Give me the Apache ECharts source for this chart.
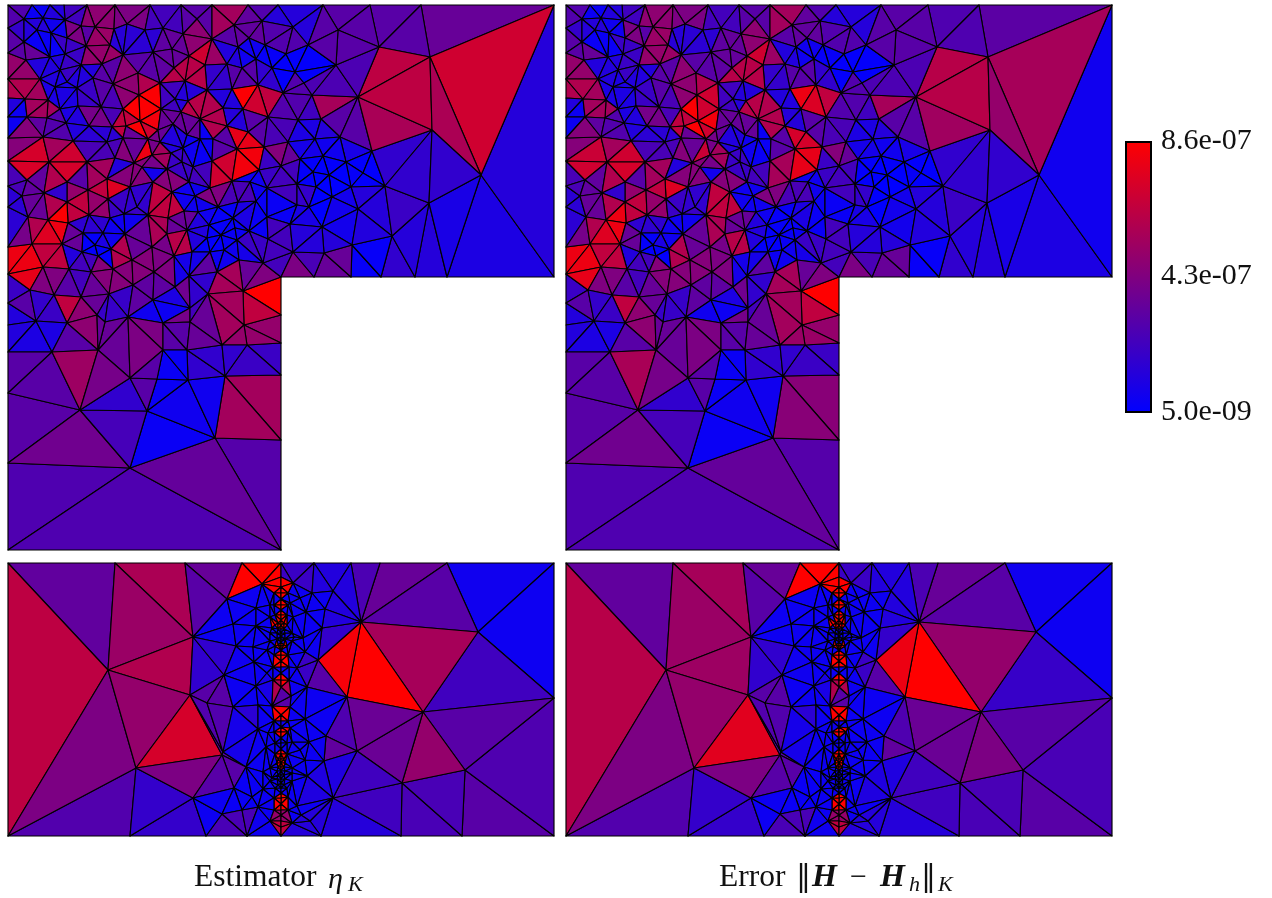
<!DOCTYPE html>
<html><head><meta charset="utf-8">
<script src="https://cdn.jsdelivr.net/npm/echarts@6/dist/echarts.min.js"></script>
<style>html,body{margin:0;background:#fff}#c{width:1272px;height:898px}</style></head>
<body><div id="c"></div>
<script>
// Mesh vertices, in mesh units of the L-shaped domain (0..546)
const topVertices=[[0,0],[24,0],[42,0],[56,0],[79,0],[107,0],[142,0],[173,0],[204,0],[240,0],[270,0],[315,0],[362,0],[413,0],[546,0],
[0,23],[0,48],[0,74],[0,93],[0,112],[0,133],[0,156],[0,181],[0,202],[0,242],[0,269],[0,298],[0,320],[0,347],[0,388],[0,458],[0,545],
[273,545],[273,435],[273,370],[273,338],[273,310],[273,272],[306,272],[343,272],[373,272],[407,272],[439,272],[546,272],
[16,14],[35,13],[57,15],[73,21],[87,22],[106,24],[119,19],[137,25],[16,37],[29,25],[43,28],[59,33],[78,41],[115,50],[145,47],[102,40],
[18,55],[42,52],[57,49],[73,60],[94,59],[130,68],[52,65],[32,74],[47,82],[59,77],[69,83],[85,73],[105,79],[131,90],[40,95],[17,94],[52,104],[70,101],[93,102],[115,104],
[155,23],[175,29],[189,14],[204,34],[226,20],[254,16],[285,22],[164,44],[181,51],[197,60],[219,59],[230,42],[241,33],[257,40],[278,49],[248,54],[234,63],[264,63],[287,67],
[166,63],[152,78],[177,76],[199,85],[224,84],[250,80],[275,88],[167,94],[180,96],[153,104],[215,103],[235,104],
[19,112],[39,113],[58,118],[81,121],[104,122],[118,121],[132,116],[140,134],[35,132],[65,136],[99,137],[115,133],[144,150],[41,157],[79,157],[107,153],[126,158],[19,175],[59,177],[99,174],[122,182],[145,177],[134,162],[80,185],[36,188],[14,191],[59,197],[100,194],[20,212],[81,210],[102,213],[116,209],[129,202],[140,210],
[173,107],[192,114],[219,121],[240,127],[260,112],[290,115],[165,119],[150,125],[179,130],[192,134],[205,134],[152,137],[163,148],[175,143],[204,156],[229,144],[256,142],[280,137],[174,157],[159,164],[185,162],[181,177],[202,183],[224,176],[251,165],[273,161],[164,187],[187,191],[210,202],[248,196],[259,183],[230,197],[289,200],[176,206],[160,213],[190,207],[225,213],[259,212],[242,177],
[40,215],[60,218],[75,228],[95,228],[117,229],[24,239],[54,239],[87,240],[74,247],[90,251],[103,244],[105,264],[124,255],[144,242],[35,262],[61,264],[83,267],[125,280],[22,285],[46,290],[73,292],[101,289],[28,316],[59,318],[89,310],[120,312],[145,295],
[179,225],[159,229],[166,251],[201,220],[199,233],[213,230],[227,223],[241,226],[260,234],[229,235],[216,245],[202,247],[184,247],[231,255],[255,258],[209,267],[181,271],[146,267],[167,282],[200,289],[235,286],[149,295],[182,303],[155,318],[236,320],
[304,90],[350,92],[289,114],[313,114],[332,132],[307,134],[364,146],[315,151],[292,154],[338,157],[355,168],[305,167],[321,170],[343,182],[377,181],[289,179],[308,182],[324,192],[301,202],[350,204],[314,222],[282,219],[384,231],[344,240],[316,248],[285,247],
[371,42],[422,52],[424,125],[473,170],[421,198],[300,40],[330,25],[328,60],[296,78],
[122,463],[207,433],[72,405],[139,406],[180,375],[217,371],[44,347],[90,345],[122,373],[149,374],[155,345],[179,345],[214,340],[239,340],[97,317],[182,317]];
// Mesh vertices of the lower rectangular domain (0..546 by 0..273)
const bottomVertices=[[0,0],[107,0],[177,0],[234,0],[273,0],[306,0],[343,0],[372,0],[439,0],[546,0],[0,273],[122,273],[198,273],[239,273],[273,273],[313,273],[393,273],[454,273],[546,273],[546,135],
[100,107],[185,74],[182,132],[128,205],[214,192],[199,140],[470,69],[415,149],[353,59],[394,220],[457,207],[339,134],
[254,21],[219,36],[285,20],[304,30],[325,28],[225,61],[248,45],[248,63],[228,83],[216,112],[245,84],[259,87],[246,99],[259,110],[248,123],[283,133],[299,124],[310,97],[314,65],[298,49],[317,46],[289,105],[295,75],[286,74],[285,54],[264,65],[262,42],[262,54],[282,40],[292,35],[297,89],
[225,144],[250,142],[264,143],[282,144],[297,156],[318,173],[349,188],[316,198],[299,213],[325,235],[215,189],[250,166],[258,184],[238,204],[255,209],[226,225],[255,226],[244,234],[185,235],[214,251],[234,247],[250,244],[262,258],[284,260],[293,252],[302,258],[280,234],[289,243],[301,179],[292,187],[284,179],[260,170],[282,165],[297,197],[284,210],[264,215],
[273,14],[273,24],[273,30],[273,36],[273,42],[273,47],[273,52],[273,57],[273,62],[273,66],[273,70],[273,73],[273,76],[273,79],[273,83],[273,87],[273,92],[273,98],[273,104],[273,110],[273,117],[273,124],[273,152],[273,158],[273,164],[273,169],[273,175],[273,180],[273,186],[273,191],[273,196],[273,200],[273,204],[273,208],[273,212],[273,216],[273,220],[273,225],[273,230],[273,235],[273,241],[273,247],[273,252],[273,258],[273,264],
[266,30],[280,30],[266,42],[280,42],[267,52],[279,52],[267,62],[279,62],[269,70],[277,70],[269,76],[277,76],[267,83],[279,83],[266,92],[280,92],[265,104],[281,104],[265,117],[281,117],
[266,158],[280,158],[266,169],[280,169],[267,180],[279,180],[267,191],[279,191],[269,200],[277,200],[269,208],[277,208],[269,216],[277,216],[267,225],[279,225],[266,235],[280,235],[266,247],[280,247],
[262,70],[284,70],[262,78],[284,78],[270,60],[276,60],[270,66],[276,66],[270,82],[276,82],[262,205],[284,205],[262,218],[284,218],[270,196],[276,196],[270,204],[276,204],[270,212],[276,212],[270,222],[276,222]];
// Values read per cell, in units of 1e-9, as [x, y, value] in mesh units
const etaTopSamples=[[9,7,280],[30,5,40],[47,7,120],[67,7,220],[90,10,480],[124,10,420],[7,22,180],[24,25,130],[50,22,60],[37,35,40],[69,30,420],[80,28,300],[89,33,520],[112,29,140],[7,40,300],[27,47,350],[67,40,200],[85,49,500],[104,49,520],[128,40,150],[10,64,500],[14,82,600],[44,60,120],[60,57,200],[80,67,120],[97,72,300],[117,60,480],[140,60,300],[139,79,600],[119,87,480],[57,87,100],[27,100,550],[7,102,120],[104,99,250],[130,100,850],[80,94,200],
[159,7,230],[189,7,300],[217,14,550],[252,7,280],[275,10,130],[214,30,300],[239,24,330],[269,29,280],[189,37,480],[192,47,700],[207,49,520],[242,42,60],[265,47,30],[279,60,20],[222,47,120],[205,69,180],[182,69,620],[239,74,300],[259,72,170],[237,90,850],[252,94,700],[265,90,650],[285,94,280],[222,97,120],[197,97,600],[185,100,620],[175,90,130],[162,94,220],[145,100,850],[145,80,550],[152,57,320],[165,55,340],
[9,108,50],[30,118,320],[47,128,280],[70,128,120],[90,115,400],[90,132,150],[14,138,450],[20,148,720],[52,145,550],[60,150,700],[24,165,730],[60,165,720],[90,147,250],[90,168,550],[5,172,250],[27,182,330],[47,172,600],[47,185,170],[69,187,500],[90,183,650],[110,182,750],[110,165,120],[72,167,300],[5,208,150],[27,205,350],[47,202,600],[52,208,850],[70,205,650],[90,202,500],[110,202,200],[130,188,170],[137,142,800],[134,112,850],[120,112,650],[120,168,450],
[125,135,350],[130,150,450],[147,135,400],[143,158,400],[154,122,350],[144,118,700],
[145,113,820],[195,108,600],[179,118,350],[229,115,130],[249,118,300],[275,122,250],[242,138,780],[185,138,60],[197,142,40],[217,145,300],[240,155,820],[215,165,700],[265,145,450],[264,158,200],[282,148,350],[165,135,120],[165,175,450],[152,150,550],[149,168,70],[175,160,200],[192,168,230],[209,187,430],[152,200,650],[184,198,60],[229,185,250],[250,182,60],[267,195,40],[242,202,100],[282,175,230],
[50,213,860],[30,223,600],[40,230,750],[50,227,800],[64,227,350],[10,230,400],[9,253,800],[17,260,800],[42,250,650],[67,253,120],[17,273,780],[7,283,200],[82,238,20],[95,245,15],[93,235,100],[80,223,160],[107,223,60],[112,252,600],[130,237,350],[130,263,450],[74,267,230],[94,273,450],[45,273,430],[57,283,300],[82,282,350],[112,275,450],[34,303,180],[12,300,300],[7,313,120],[57,303,650],[74,310,480],[47,313,200],[107,303,190],[134,310,60],[134,293,320],
[150,220,580],[167,238,620],[175,217,350],[155,247,400],[190,232,120],[192,243,20],[207,240,20],[222,217,30],[219,230,40],[249,220,40],[242,240,200],[222,253,60],[242,252,80],[264,227,230],[260,250,230],[197,253,50],[184,260,80],[195,267,320],[219,277,560],[242,267,350],[255,272,430],[192,278,170],[175,283,380],[159,253,420],[155,273,430],[165,293,100],[149,283,320],[190,303,230],[215,300,350],[255,290,860],[254,307,650],[225,307,550],[150,310,50],[172,313,400],
[322,98,560],[299,102,220],[295,123,100],[319,123,130],[345,122,300],[382,102,720],[325,142,60],[347,145,90],[302,143,80],[285,147,480],[299,160,20],[314,162,10],[329,162,20],[359,162,15],[345,165,30],[332,178,10],[315,180,10],[299,172,20],[312,193,10],[332,198,70],[362,195,130],[392,162,170],[395,198,200],[292,195,180],[299,213,90],[329,218,70],[365,222,120],[299,235,130],[329,233,130],[327,255,350],[299,255,250],[362,255,30],[392,255,170],[289,262,420],
[395,70,640],[370,125,570],[465,65,700],[470,110,580],[520,150,130],[490,230,100],[445,225,90],[415,250,130],[440,150,170],[405,160,170],[460,20,350],[390,20,300],[340,30,300],[330,75,260],
[252,325,500],[247,350,200],[217,355,170],[162,360,40],[167,390,40],[137,365,300],[67,375,530],[22,370,300],[102,380,400],[242,405,550],[222,405,480],[192,405,60],[162,435,40],[107,395,170],[32,425,300],[62,440,380],[117,425,240],[232,485,290],[172,485,340],[62,505,290],[132,515,270],[30,505,270],[37,335,100],[67,340,300],[92,335,350],[132,330,420],[172,330,300],[202,325,350]];
const etaBottomSamples=[[40,135,640],[60,40,330],[150,30,580],[142,57,520],[142,97,600],[142,157,500],[52,187,420],[170,180,720],[207,157,280],[207,107,300],[157,217,420],[142,247,180],[82,237,280],[202,237,50],[207,202,300],[197,37,300],[252,7,860],[212,7,350],[292,12,200],[322,15,120],[392,27,350],[412,37,300],[492,27,60],[512,67,50],[502,117,220],[442,97,560],[372,77,800],[377,127,860],[334,97,830],[332,157,270],[382,172,360],[439,177,500],[502,177,300],[512,227,270],[422,257,250],[372,237,220],[332,247,130],[482,257,300],[360,20,260],
[240,60,50],[300,60,50],[235,100,60],[300,110,200],[260,120,90],[335,80,180],[330,40,120],[305,40,50],[210,60,50],[195,95,170],
[273,27,860],[273,42,860],[273,52,860],[273,60,860],[273,87,860],[273,99,860],[274,115,860],[270,122,600],[266,35,50],[280,35,50],[266,48,50],[280,48,50],[266,70,50],[280,70,50],[273,72,50],[266,90,50],[280,90,50],[262,105,50],[285,105,50],[273,107,50],[273,136,300],[255,135,50],[285,135,50],
[273,152,860],[273,169,860],[273,191,860],[273,200,860],[273,235,860],[273,241,860],[272,252,500],[268,265,650],[265,160,50],[281,160,50],[266,180,50],[280,180,50],[273,212,50],[262,200,50],[284,200,50],[266,225,50],[280,225,50],[262,245,50],[285,245,50],[235,170,80],[240,225,40],[235,262,250],[255,262,60],[295,262,130],[300,200,50],[320,215,110],[335,195,330],[330,175,50],[305,150,50],[245,150,150],[325,125,300]];
// Cells that read differently in the error panels
const errTopDiffs=[[465,65,560],[470,110,500],[395,70,620],[370,125,540],[460,20,310],[390,20,270],[520,150,60],[237,90,800],[252,94,740],[145,100,700],[137,142,680],[240,155,780],[215,165,560],[242,138,720],[52,208,800],[20,148,680],[24,165,700],[250,325,520],[67,375,570],[242,405,460]];
const errBottomDiffs=[[40,135,620],[150,30,560],[372,77,780],[170,180,760],[442,97,500],[439,177,420],[502,117,190],[334,97,800],[142,97,530],[512,227,250]];
// Colour bar
const colorMin=5, colorMax=860;
const colorbarTicks=[5,432.5,860];
const colorbarLabels=['5.0e-09','4.3e-07','8.6e-07'];
const TOPW=546, TOPH=545, BOTH=273;

function triangulate(pts,minSep,W,H){
  const P=[];
  pts.forEach(p=>{ if(!P.some(q=>Math.hypot(q[0]-p[0],q[1]-p[1])<minSep)) P.push(p); });
  // The rectangle is bowed slightly outwards for the test only, so no boundary triple is collinear
  const k=0.012;
  const w=P.map(p=>{const u=2*p[0]/W-1,v=2*p[1]/H-1;
    return [(p[0]-W/2)*(1+k*(1-v*v)),(p[1]-H/2)*(1+k*(1-u*u))];});
  const n=w.length;
  w.push([-1e7,-1e7],[1e7,-1e7],[0,1e7]);
  const cc=(a,b,c)=>{const A=w[a],B=w[b],C=w[c];
    const d=2*(A[0]*(B[1]-C[1])+B[0]*(C[1]-A[1])+C[0]*(A[1]-B[1]));
    const a2=A[0]*A[0]+A[1]*A[1],b2=B[0]*B[0]+B[1]*B[1],c2=C[0]*C[0]+C[1]*C[1];
    const x=(a2*(B[1]-C[1])+b2*(C[1]-A[1])+c2*(A[1]-B[1]))/d;
    const y=(a2*(C[0]-B[0])+b2*(A[0]-C[0])+c2*(B[0]-A[0]))/d;
    return {a,b,c,x,y,r:(x-A[0])*(x-A[0])+(y-A[1])*(y-A[1])};};
  let T=[cc(n,n+1,n+2)];
  for(let i=0;i<n;i++){
    const p=w[i],keep=[],edges={};
    T.forEach(t=>{
      if((p[0]-t.x)*(p[0]-t.x)+(p[1]-t.y)*(p[1]-t.y)<t.r){
        [[t.a,t.b],[t.b,t.c],[t.c,t.a]].forEach(e=>{
          const k2=Math.min(e[0],e[1])+'_'+Math.max(e[0],e[1]);
          edges[k2]=(k2 in edges)?null:e;
        });
      } else keep.push(t);
    });
    Object.values(edges).forEach(e=>{ if(e) keep.push(cc(e[0],e[1],i)); });
    T=keep;
  }
  const out=[];
  T.forEach(t=>{
    if(t.a>=n||t.b>=n||t.c>=n) return;
    const A=P[t.a],B=P[t.b],C=P[t.c];
    const area=Math.abs((B[0]-A[0])*(C[1]-A[1])-(C[0]-A[0])*(B[1]-A[1]))/2;
    if(area<0.5) return;
    out.push([A,B,C]);
  });
  return out;
}
function cells(tris,samples,diffs){
  const S=samples.concat(diffs||[]);
  return tris.map(t=>{
    const cx=(t[0][0]+t[1][0]+t[2][0])/3,cy=(t[0][1]+t[1][1]+t[2][1])/3;
    let best=S[0],bd=1e18;
    S.forEach(s=>{const d=(s[0]-cx)*(s[0]-cx)+(s[1]-cy)*(s[1]-cy); if(d<=bd){bd=d;best=s;}});
    return [t[0][0],t[0][1],t[1][0],t[1][1],t[2][0],t[2][1],best[2]];
  });
}
const topTris=triangulate(topVertices,5,TOPW,TOPH).filter(t=>{
  const cx=(t[0][0]+t[1][0]+t[2][0])/3,cy=(t[0][1]+t[1][1]+t[2][1])/3;
  return !(cx>273&&cy>272);
});
const botTris=triangulate(bottomVertices,1.5,TOPW,BOTH);
const renderTri=(params,api)=>{
  const a=api.coord([api.value(0),api.value(1)]),b=api.coord([api.value(2),api.value(3)]),c=api.coord([api.value(4),api.value(5)]);
  return {type:'polygon',shape:{points:[a,b,c]},style:{fill:api.visual('color'),stroke:'#000',lineWidth:1.15,lineJoin:'round'}};
};
const panels=[
 {left:8,top:5,h:TOPH,ymax:TOPH,data:cells(topTris,etaTopSamples)},
 {left:566,top:5,h:TOPH,ymax:TOPH,data:cells(topTris,etaTopSamples,errTopDiffs)},
 {left:8,top:563,h:BOTH,ymax:BOTH,data:cells(botTris,etaBottomSamples)},
 {left:566,top:563,h:BOTH,ymax:BOTH,data:cells(botTris,etaBottomSamples,errBottomDiffs)}
];
const serif='"Liberation Serif","DejaVu Serif",serif';
const txt=(x,y,text,size,extra,fam)=>({type:'text',x,y,style:{text,fill:'#111',font:(extra||'')+' '+size+'px '+(fam||serif),verticalAlign:'middle',align:'left'}});
const chart=echarts.init(document.getElementById('c'),null,{renderer:'canvas'});
chart.setOption({
 animation:false,backgroundColor:'#fff',
 grid:panels.map(p=>({left:p.left,top:p.top,width:TOPW,height:p.h})).concat([{left:1125,top:141,width:27,height:271}]),
 xAxis:panels.map((p,i)=>({type:'value',gridIndex:i,min:0,max:TOPW,show:false})).concat([{type:'category',gridIndex:4,data:['scale'],show:false}]),
 yAxis:panels.map((p,i)=>({type:'value',gridIndex:i,min:0,max:p.ymax,inverse:true,show:false})).concat([{type:'value',gridIndex:4,position:'right',min:colorMin,max:colorMax,
   axisLine:{show:false},axisTick:{show:false},splitLine:{show:false},
   axisLabel:{customValues:colorbarTicks,margin:9,color:'#111',fontFamily:serif,fontSize:30,padding:[14,0,0,0],
     formatter:v=>colorbarLabels[colorbarTicks.indexOf(v)]}}]),
 visualMap:{show:false,type:'continuous',min:colorMin,max:colorMax,dimension:6,seriesIndex:[0,1,2,3],inRange:{color:['#0000ff','#ff0000']}},
 series:panels.map((p,i)=>({type:'custom',xAxisIndex:i,yAxisIndex:i,coordinateSystem:'cartesian2d',renderItem:renderTri,clip:false,silent:true,
   dimensions:['ax','ay','bx','by','cx','cy','v'],encode:{x:0,y:1},data:p.data})).concat([
   {type:'bar',xAxisIndex:4,yAxisIndex:4,barWidth:'100%',silent:true,data:[colorMax],
    itemStyle:{borderColor:'#000',borderWidth:2,color:{type:'linear',x:0,y:0,x2:0,y2:1,colorStops:[{offset:0,color:'#ff0000'},{offset:1,color:'#0000ff'}]}}}]),
 graphic:[
  txt(194,878,'Estimator',31.5),txt(328,880,'η',30,'italic'),txt(348,885,'K',22,'italic'),
  txt(719,878,'Error',31.5),txt(796,878,'‖',30,'','"DejaVu Serif"'),txt(812,878,'H',32,'italic bold'),txt(850,878,'−',30),txt(880,878,'H',32,'italic bold'),txt(909,885,'h',22,'italic'),txt(921,878,'‖',30,'','"DejaVu Serif"'),txt(938,885,'K',22,'italic')
 ]
});
</script></body></html>
